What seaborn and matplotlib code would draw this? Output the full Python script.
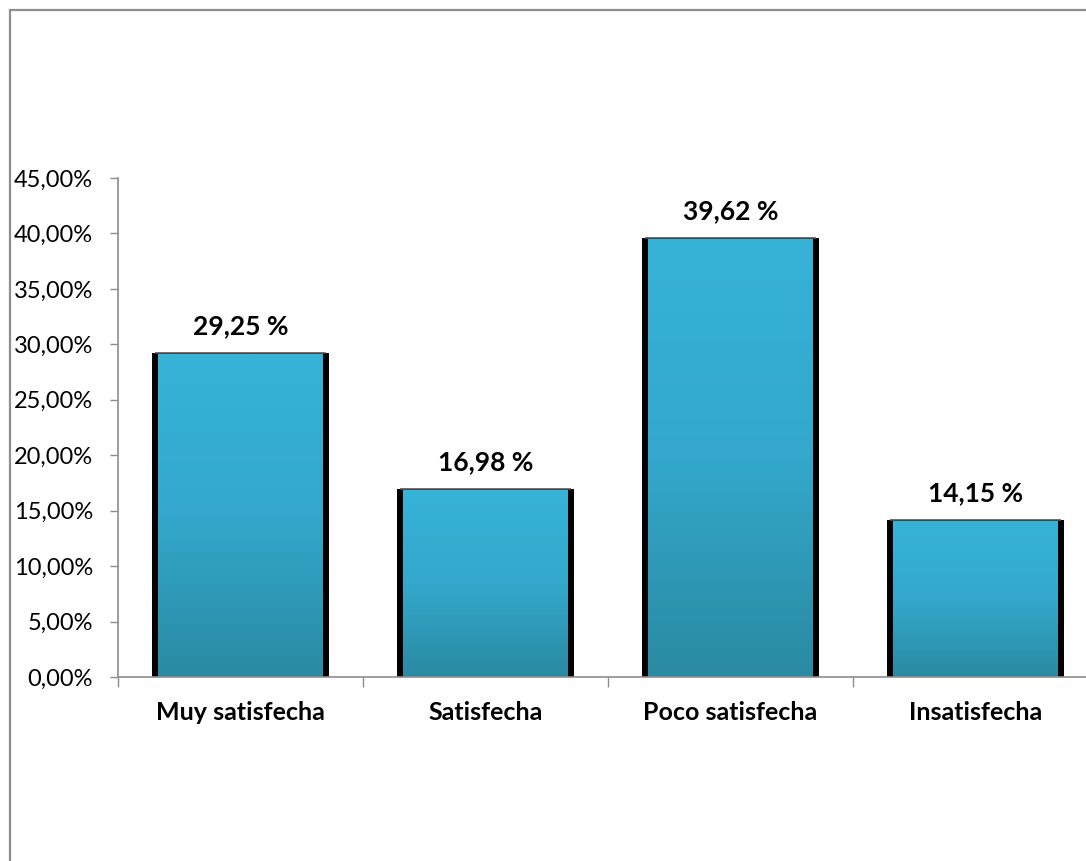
import numpy as np
import pandas as pd
import matplotlib
matplotlib.use("Agg")
import matplotlib.pyplot as plt
from matplotlib.patches import Rectangle
from matplotlib.colors import LinearSegmentedColormap
from matplotlib.ticker import FuncFormatter, FixedLocator
import seaborn as sns

categories = ["Muy satisfecha", "Satisfecha", "Poco satisfecha", "Insatisfecha"]
values = [29.25, 16.98, 39.62, 14.15]
value_labels = ["29,25 %", "16,98 %", "39,62 %", "14,15 %"]

sns.set_theme(style="white")
plt.rcParams["font.family"] = ["Lato", "DejaVu Sans"]

W, H = 1086, 861
fig = plt.figure(figsize=(W / 100, H / 100), dpi=100)
fig.patch.set_facecolor("white")

# chart-area frame
fig.patches.append(Rectangle((10 / W, -0.5), 2.0, 1.5 - 10 / H,
                             transform=fig.transFigure, fill=False,
                             edgecolor="#8e8e8e", linewidth=1.6, zorder=0))

left, right, bottom, top = 118 / W, 1098 / W, 1 - 677 / H, 1 - 178 / H
ax = fig.add_axes([left, bottom, right - left, top - bottom])
ax.set_facecolor("none")

df = pd.DataFrame({"cat": categories, "val": values})
bar_w = 0.725
sns.barplot(data=df, x="cat", y="val", color="black", width=bar_w,
            saturation=1, ax=ax, zorder=2, edgecolor="none")

ax.set_xlim(-0.5, len(categories) - 0.5)
ax.set_ylim(0, 45)

# gradient fill inside each bar, leaving dark sides
cmap = LinearSegmentedColormap.from_list("blue", ["#2a8aa2", "#33a8cc", "#36b3d7"])
grad = np.linspace(0, 1, 256).reshape(-1, 1)
px_x = (len(categories)) / (right - left) / W  # data units per pixel (x)
px_y = 45 / ((top - bottom) * H)
for p in ax.patches:
    x0 = p.get_x()
    w = p.get_width()
    h = p.get_height()
    ax.imshow(grad, cmap=cmap, origin="lower", aspect="auto",
              extent=(x0 + 6 * px_x, x0 + w - 7 * px_x, 0, h - 1.5 * px_y),
              zorder=3, interpolation="bilinear")
    ax.plot([x0 + 3 * px_x, x0 + w - 3 * px_x], [h, h], color="#555555",
            lw=1.2, zorder=4, solid_capstyle="butt")
ax.set_xlim(-0.5, len(categories) - 0.5)
ax.set_ylim(0, 45)

for i, (v, lab) in enumerate(zip(values, value_labels)):
    ax.text(i, v + 2.4, lab, ha="center", va="center", fontsize=19,
            fontweight="bold", color="black", zorder=5)

ax.yaxis.set_major_locator(FixedLocator(np.arange(0, 46, 5)))
ax.yaxis.set_major_formatter(FuncFormatter(lambda y, _: f"{y:.2f}%".replace(".", ",")))
ax.tick_params(axis="y", which="major", length=6, width=1, color="#8e8e8e",
               labelsize=17, labelcolor="black", pad=12, left=True)

ax.set_xticks(range(len(categories)))
ax.set_xticklabels(categories, fontsize=18, fontweight="bold")
ax.tick_params(axis="x", which="major", length=0, pad=17, labelcolor="black")
ax.xaxis.set_minor_locator(FixedLocator(np.arange(-0.5, len(categories), 1)))
ax.tick_params(axis="x", which="minor", length=7, width=1, color="#8e8e8e",
               bottom=True)

for side in ["top", "right"]:
    ax.spines[side].set_visible(False)
for side in ["left", "bottom"]:
    ax.spines[side].set_visible(True)
    ax.spines[side].set_color("#8e8e8e")
    ax.spines[side].set_linewidth(1.2)
    ax.spines[side].set_zorder(6)
ax.set_xlabel("")
ax.set_ylabel("")

fig.savefig("out.png", dpi=100, facecolor="white")
